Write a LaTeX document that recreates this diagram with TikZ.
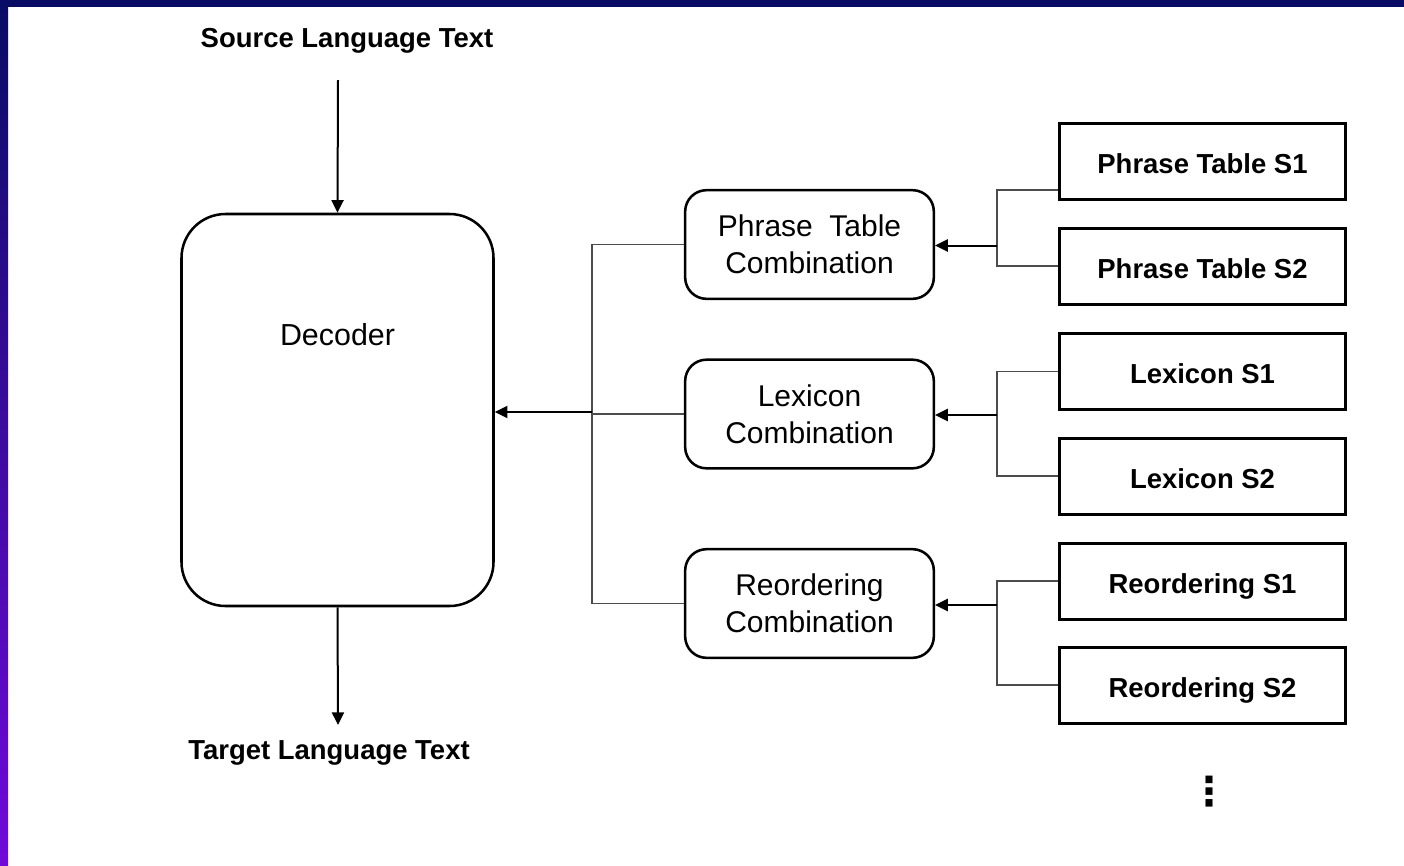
\documentclass[tikz,border=0pt]{standalone}
\usepackage{fontspec}
\setmainfont{Liberation Sans}
\newfontfamily\symfont{DejaVu Sans}
\usetikzlibrary{arrows.meta}

\definecolor{bandtop}{RGB}{8,12,100}
\definecolor{bandbot}{RGB}{112,10,218}

\tikzset{
  lbl/.style={font=\fontsize{20.6}{24}\selectfont\bfseries, inner sep=0pt},
  decbox/.style={draw, line width=1.9pt, rounded corners=33pt,
    minimum width=234pt, minimum height=294pt, inner sep=0pt},
  combbox/.style={draw, line width=1.9pt, rounded corners=16pt,
    minimum width=186.5pt, minimum height=81.5pt, align=center,
    font=\fontsize{22.5}{27.75}\selectfont},
  srcbox/.style={draw, line width=2.25pt, minimum width=214.5pt,
    minimum height=57pt, text depth=0pt, text height=18pt,
    font=\fontsize{20.6}{24}\selectfont\bfseries},
  feed/.style={-{Triangle[length=9.5pt,width=9pt]}, line width=1.5pt},
  wire/.style={line width=1.1pt, black!70},
}

\begin{document}
\begin{tikzpicture}[x=0.75pt, y=-0.75pt]
  % page frame and the coloured bands along the top and left edges
  \useasboundingbox (0,0) rectangle (1404,865);
  \fill[white] (0,0) rectangle (1404,865);
  \shade[top color=bandtop, bottom color=bandbot] (0,0) rectangle (8,865);
  \fill[bandtop] (0,0) rectangle (1404,7);

  % decoder with its input and output
  \node[lbl] (src) at (347,41) {Source Language Text};
  \node[decbox, label={[anchor=center, yshift=-91.5pt,
      font=\fontsize{22.8}{27}\selectfont]north:Decoder}] (dec) at (337.5,410) {};
  \node[lbl] (tgt) at (329,753) {Target Language Text};
  \coordinate (srcend) at (338,80);
  \coordinate (tgtend) at (338,725);
  \draw[feed] (srcend) -- (dec.north);
  \draw[feed] (dec.south) -- (tgtend);

  % combination stages
  \node[combbox] (ptc) at (809.5,244.5) {Phrase\hspace{0.55em}Table\\Combination};
  \node[combbox] (lxc) at (809.5,414) {Lexicon\\Combination};
  \node[combbox] (roc) at (809.5,603.5) {Reordering\\Combination};

  % bus collecting the stages into the decoder
  \coordinate (bustop) at (592,244.5);
  \coordinate (busbot) at (592,603.5);
  \coordinate (busjoin) at (592,412);
  \draw[wire] (ptc.west) -- (bustop) -- (busbot) -- (roc.west);
  \draw[wire] (lxc.west) -- (lxc.west -| bustop);
  \draw[feed] (busjoin) -- (busjoin -| dec.east);

  % per-system sources
  \node[srcbox] (pt1) at (1202.5,161.5) {Phrase Table S1};
  \node[srcbox] (pt2) at (1202.5,266) {Phrase Table S2};
  \node[srcbox] (lx1) at (1202.5,371.5) {Lexicon S1};
  \node[srcbox] (lx2) at (1202.5,476) {Lexicon S2};
  \node[srcbox] (ro1) at (1202.5,581) {Reordering S1};
  \node[srcbox] (ro2) at (1202.5,685) {Reordering S2};

  % forks from the sources into each stage
  \coordinate (ptfork) at (997,245.5);
  \coordinate (lxfork) at (997,415);
  \coordinate (rofork) at (997,605);
  \draw[wire] ([yshift=-21.4pt]pt1.west) -| (ptfork) |- (pt2.west);
  \draw[wire] (lx1.west) -| (lxfork) |- (lx2.west);
  \draw[wire] (ro1.west) -| (rofork) |- (ro2.west);
  \draw[feed] (ptfork) -- (ptfork -| ptc.east);
  \draw[feed] (lxfork) -- (lxfork -| lxc.east);
  \draw[feed] (rofork) -- (rofork -| roc.east);

  % more sources follow
  \node[font=\fontsize{30}{30}\selectfont\symfont\bfseries,
    inner sep=0pt] (more) at (1209,792) {⋮};
\end{tikzpicture}
\end{document}
